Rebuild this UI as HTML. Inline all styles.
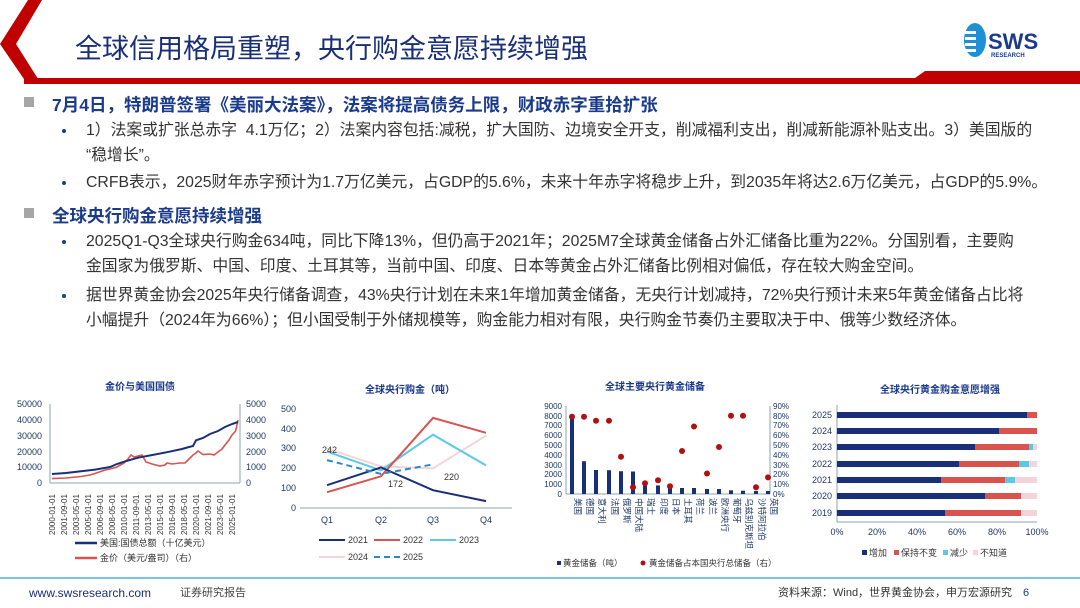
<!DOCTYPE html>
<html><head><meta charset="utf-8"><style>
body{margin:0;width:1080px;height:608px;background:#fff;position:relative;overflow:hidden;font-family:"Liberation Sans","Noto Sans CJK SC",sans-serif;}
.t{position:absolute;white-space:nowrap;}
.b{font-size:15.8px;color:#333;line-height:20px;}
.h{font-size:17.5px;font-weight:bold;color:#1a3a8c;}
.dot{position:absolute;width:4px;height:4px;border-radius:2px;background:#1a3a8c;}
.sq{position:absolute;width:10px;height:10px;background:#a6a6a6;}
svg text{font-family:"Liberation Sans","Noto Sans CJK SC",sans-serif;}
</style></head><body>
<svg width="1080" height="90" style="position:absolute;left:0;top:0">
<polygon points="28,0 42,0 16,44 40,82 26,82 0,44" fill="#c00000"/>
<polygon points="24,78 915,78 925,71 1080,71 1080,84 24,84" fill="#c00000"/>
<ellipse cx="975" cy="40" rx="11" ry="17" fill="#1e90d6"/>
<rect x="965" y="31" width="11" height="3" fill="#fff"/><rect x="965" y="37" width="11" height="3" fill="#fff"/><rect x="965" y="43" width="11" height="3" fill="#fff"/><rect x="965" y="49" width="11" height="3" fill="#fff"/>
<text x="988" y="49" font-size="22" font-weight="bold" fill="#1a3a8c">SWS</text>
<text x="991" y="57" font-size="6" font-weight="bold" fill="#1a3a8c">RESEARCH</text>
</svg>
<div class="t" style="left:75px;top:27px;font-size:27px;color:#1a2f7a;">全球信用格局重塑，央行购金意愿持续增强</div>

<div class="sq" style="left:24px;top:97px"></div>
<div class="t h" style="left:52px;top:92px">7月4日，特朗普签署《美丽大法案》，法案将提高债务上限，财政赤字重拾扩张</div>
<div class="dot" style="left:62px;top:129px"></div>
<div class="t b" style="left:86px;top:121px">1）法案或扩张总赤字&nbsp; 4.1万亿；2）法案内容包括:减税，扩大国防、边境安全开支，削减福利支出，削减新能源补贴支出。3）美国版的</div>
<div class="t b" style="left:86px;top:146px">“稳增长”。</div>
<div class="dot" style="left:62px;top:181px"></div>
<div class="t b" style="left:86px;top:173px">CRFB表示，2025财年赤字预计为1.7万亿美元，占GDP的5.6%，未来十年赤字将稳步上升，到2035年将达2.6万亿美元，占GDP的5.9%。</div>
<div class="sq" style="left:24px;top:208px"></div>
<div class="t h" style="left:52px;top:203px">全球央行购金意愿持续增强</div>
<div class="dot" style="left:62px;top:240px"></div>
<div class="t b" style="left:86px;top:232px">2025Q1-Q3全球央行购金634吨，同比下降13%，但仍高于2021年；2025M7全球黄金储备占外汇储备比重为22%。分国别看，主要购</div>
<div class="t b" style="left:86px;top:257px">金国家为俄罗斯、中国、印度、土耳其等，当前中国、印度、日本等黄金占外汇储备比例相对偏低，存在较大购金空间。</div>
<div class="dot" style="left:62px;top:294px"></div>
<div class="t b" style="left:86px;top:286px">据世界黄金协会2025年央行储备调查，43%央行计划在未来1年增加黄金储备，无央行计划减持，72%央行预计未来5年黄金储备占比将</div>
<div class="t b" style="left:86px;top:311px">小幅提升（2024年为66%）；但小国受制于外储规模等，购金能力相对有限，央行购金节奏仍主要取决于中、俄等少数经济体。</div>

<svg width="1080" height="608" style="position:absolute;left:0;top:0" font-size="9" fill="#1f3864">
<!-- chart1 -->
<text x="140" y="390" text-anchor="middle" font-size="10" font-weight="bold" fill="#1a3a8c">金价与美国国债</text>
<g fill="#1f3864" font-size="9" text-anchor="end">
<text x="42" y="407">50000</text><text x="42" y="423">40000</text><text x="42" y="439">30000</text><text x="42" y="455">20000</text><text x="42" y="470">10000</text><text x="42" y="486">0</text>
</g>
<g fill="#1f3864" font-size="9"><text x="246" y="407">5000</text><text x="246" y="423">4000</text><text x="246" y="439">3000</text><text x="246" y="455">2000</text><text x="246" y="470">1000</text><text x="246" y="486">0</text></g>
<line x1="50" y1="404" x2="50" y2="483" stroke="#8aa" stroke-width="1"/>
<line x1="240" y1="404" x2="240" y2="483" stroke="#8aa" stroke-width="1"/>
<line x1="50" y1="483" x2="240" y2="483" stroke="#8aa" stroke-width="1"/>
<polyline fill="none" stroke="#d9534f" stroke-width="1.6" points="52,478.6 66,478 81,476.5 90,475 95,473.5 105,470 110,469 117,467 124,463 128,459 131,455 134,457 138,456 142,455 146,462 152,464 160,466 165,465 167,463 172,464 180,463 185,463 189,459 193,455 196,453 198,451 203,454.6 210,454 214,455 218,452 222,449 225,445 229,440 232,435 235.6,431 237,425 238,420"/>
<polyline fill="none" stroke="#1a2f7a" stroke-width="2" points="52,474 66,473 81,471.3 95,469.6 110,467 117,464 124,461.7 138,457.7 153,454.9 167,452.2 182,449 189,447 193,446 196,440.3 203,438 210,434 218,431 225,427 232,424 238,422"/>
<g font-size="8" fill="#333">
<text transform="translate(55,535) rotate(-90)">2000-01-01</text><text transform="translate(67,535) rotate(-90)">2001-09-01</text><text transform="translate(79,535) rotate(-90)">2003-05-01</text><text transform="translate(91,535) rotate(-90)">2005-01-01</text><text transform="translate(103,535) rotate(-90)">2006-09-01</text><text transform="translate(115,535) rotate(-90)">2008-05-01</text><text transform="translate(127,535) rotate(-90)">2010-01-01</text><text transform="translate(139,535) rotate(-90)">2011-09-01</text><text transform="translate(151,535) rotate(-90)">2013-05-01</text><text transform="translate(163,535) rotate(-90)">2015-01-01</text><text transform="translate(175,535) rotate(-90)">2016-09-01</text><text transform="translate(187,535) rotate(-90)">2018-05-01</text><text transform="translate(199,535) rotate(-90)">2020-01-01</text><text transform="translate(211,535) rotate(-90)">2021-09-01</text><text transform="translate(223,535) rotate(-90)">2023-05-01</text><text transform="translate(235,535) rotate(-90)">2025-01-01</text>
</g>
<line x1="75" y1="543" x2="97" y2="543" stroke="#1a2f7a" stroke-width="2.5"/><text x="100" y="546" font-size="9" fill="#333">美国:国债总额（十亿美元）</text>
<line x1="75" y1="558" x2="97" y2="558" stroke="#d9534f" stroke-width="2.5"/><text x="100" y="561" font-size="9" fill="#333">金价（美元/盎司）（右）</text>

<!-- chart2 -->
<text x="410" y="393" text-anchor="middle" font-size="10" font-weight="bold" fill="#1a3a8c">全球央行购金（吨）</text>
<g text-anchor="end" font-size="9"><text x="296" y="412">500</text><text x="296" y="432">400</text><text x="296" y="451">300</text><text x="296" y="471">200</text><text x="296" y="491">100</text><text x="296" y="511">0</text></g>
<line x1="300" y1="508" x2="512" y2="508" stroke="#8aa"/>
<g font-size="9" text-anchor="middle"><text x="327" y="523">Q1</text><text x="381" y="523">Q2</text><text x="433" y="523">Q3</text><text x="486" y="523">Q4</text></g>
<polyline fill="none" stroke="#f4d4d8" stroke-width="2" points="327,448.6 381,466.4 433,468.4 486,435.7"/>
<polyline fill="none" stroke="#5bc8e8" stroke-width="2" points="327,451.6 381,470.4 433,434.7 486,465.4"/>
<polyline fill="none" stroke="#d9534f" stroke-width="2" points="327,492.2 381,476.3 433,417.9 486,432.8"/>
<polyline fill="none" stroke="#1a2f7a" stroke-width="2" points="327,485.2 381,467.4 433,490.2 486,501.1"/>
<polyline fill="none" stroke="#2a8ac8" stroke-width="2" stroke-dasharray="6,4" points="327,460.1 381,473.9 433,464.4"/>
<text x="322" y="453" font-size="9" fill="#333">242</text><text x="388" y="487" font-size="9" fill="#333">172</text><text x="444" y="480" font-size="9" fill="#333">220</text>
<line x1="319" y1="540" x2="345" y2="540" stroke="#1a2f7a" stroke-width="2"/><text x="348" y="543" font-size="9" fill="#333">2021</text>
<line x1="374" y1="540" x2="400" y2="540" stroke="#d9534f" stroke-width="2"/><text x="403" y="543" font-size="9" fill="#333">2022</text>
<line x1="430" y1="540" x2="456" y2="540" stroke="#5bc8e8" stroke-width="2"/><text x="459" y="543" font-size="9" fill="#333">2023</text>
<line x1="319" y1="557" x2="345" y2="557" stroke="#f4d4d8" stroke-width="2"/><text x="348" y="560" font-size="9" fill="#333">2024</text>
<line x1="374" y1="557" x2="400" y2="557" stroke="#2a8ac8" stroke-width="2" stroke-dasharray="6,4"/><text x="403" y="560" font-size="9" fill="#333">2025</text>

<!-- chart3 -->
<text x="655" y="390" text-anchor="middle" font-size="10" font-weight="bold" fill="#1a3a8c">全球主要央行黄金储备</text>
<g text-anchor="end" font-size="8"><text x="562" y="409">9000</text><text x="562" y="419">8000</text><text x="562" y="428">7000</text><text x="562" y="438">6000</text><text x="562" y="448">5000</text><text x="562" y="458">4000</text><text x="562" y="468">3000</text><text x="562" y="477">2000</text><text x="562" y="487">1000</text><text x="562" y="497">0</text></g>
<g font-size="8"><text x="773" y="409">90%</text><text x="773" y="419">80%</text><text x="773" y="428">70%</text><text x="773" y="438">60%</text><text x="773" y="448">50%</text><text x="773" y="458">40%</text><text x="773" y="468">30%</text><text x="773" y="477">20%</text><text x="773" y="487">10%</text><text x="773" y="497">0%</text></g>
<line x1="566" y1="406" x2="566" y2="494" stroke="#8aa"/><line x1="770" y1="406" x2="770" y2="494" stroke="#8aa"/><line x1="566" y1="494" x2="770" y2="494" stroke="#8aa"/>
<g fill="#1a2f7a">
<rect x="570" y="414.5" width="4" height="79.5"/><rect x="582" y="461.2" width="4" height="32.8"/><rect x="594" y="470" width="4" height="24"/><rect x="607" y="470.2" width="4" height="23.8"/><rect x="619" y="471.2" width="4" height="22.8"/><rect x="631" y="471.5" width="4" height="22.5"/><rect x="643" y="483.8" width="4" height="10.2"/><rect x="656" y="485.4" width="4" height="8.6"/><rect x="668" y="485.7" width="4" height="8.3"/><rect x="680" y="488" width="4" height="6"/><rect x="692" y="488" width="4" height="6"/><rect x="705" y="489" width="4" height="5"/><rect x="717" y="489" width="4" height="5"/><rect x="729" y="490.3" width="4" height="3.7"/><rect x="741" y="490.7" width="4" height="3.3"/><rect x="754" y="490.9" width="4" height="3.1"/><rect x="766" y="491" width="4" height="3"/>
</g>
<g fill="#b01010">
<circle cx="572" cy="416.8" r="3"/><circle cx="584" cy="416.8" r="3"/><circle cx="596" cy="420.7" r="3"/><circle cx="609" cy="420.7" r="3"/><circle cx="621" cy="456.8" r="3"/><circle cx="633" cy="487.2" r="3"/><circle cx="645" cy="483.2" r="3"/><circle cx="658" cy="480.3" r="3"/><circle cx="670" cy="486.2" r="3"/><circle cx="682" cy="451" r="3"/><circle cx="694" cy="426.5" r="3"/><circle cx="707" cy="473.5" r="3"/><circle cx="719" cy="447" r="3"/><circle cx="731" cy="415.8" r="3"/><circle cx="743" cy="415.8" r="3"/><circle cx="756" cy="487.2" r="3"/><circle cx="768" cy="477.4" r="3"/>
</g>
<g font-size="8.5" fill="#1f3864">
<text transform="translate(575,498) rotate(90)">美国</text><text transform="translate(587,498) rotate(90)">德国</text><text transform="translate(599,498) rotate(90)">意大利</text><text transform="translate(612,498) rotate(90)">法国</text><text transform="translate(624,498) rotate(90)">俄罗斯</text><text transform="translate(636,498) rotate(90)">中国大陆</text><text transform="translate(648,498) rotate(90)">瑞士</text><text transform="translate(661,498) rotate(90)">印度</text><text transform="translate(673,498) rotate(90)">日本</text><text transform="translate(685,498) rotate(90)">土耳其</text><text transform="translate(697,498) rotate(90)">荷兰</text><text transform="translate(710,498) rotate(90)">波兰</text><text transform="translate(722,498) rotate(90)">欧洲央行</text><text transform="translate(734,498) rotate(90)">葡萄牙</text><text transform="translate(746,498) rotate(90)">乌兹别克斯坦</text><text transform="translate(759,498) rotate(90)">沙特阿拉伯</text><text transform="translate(771,498) rotate(90)">英国</text>
</g>
<rect x="557" y="561" width="4" height="4" fill="#1a2f7a"/><text x="563" y="566" font-size="8.5" fill="#333">黄金储备（吨）</text>
<circle cx="643" cy="563" r="2.5" fill="#b01010"/><text x="649" y="566" font-size="8.5" fill="#333">黄金储备占本国央行总储备（右）</text>

<!-- chart4 -->
<text x="940" y="393" text-anchor="middle" font-size="10" font-weight="bold" fill="#1a3a8c">全球央行黄金购金意愿增强</text>
<line x1="837" y1="405" x2="837" y2="522" stroke="#8aa"/><line x1="837" y1="522" x2="1037" y2="522" stroke="#8aa"/>
<g text-anchor="end" font-size="9"><text x="832" y="418">2025</text><text x="832" y="434">2024</text><text x="832" y="450">2023</text><text x="832" y="467">2022</text><text x="832" y="483">2021</text><text x="832" y="499">2020</text><text x="832" y="516">2019</text></g>
<g font-size="9" text-anchor="middle"><text x="837" y="535">0%</text><text x="877" y="535">20%</text><text x="917" y="535">40%</text><text x="957" y="535">60%</text><text x="997" y="535">80%</text><text x="1037" y="535">100%</text></g>
<g>
<rect x="837" y="412" width="190" height="6" fill="#1a2f7a"/><rect x="1027" y="412" width="10" height="6" fill="#d9534f"/>
<rect x="837" y="428" width="162" height="6" fill="#1a2f7a"/><rect x="999" y="428" width="38" height="6" fill="#d9534f"/>
<rect x="837" y="444" width="138" height="6" fill="#1a2f7a"/><rect x="975" y="444" width="54" height="6" fill="#d9534f"/><rect x="1029" y="444" width="4" height="6" fill="#5bc8e8"/><rect x="1033" y="444" width="4" height="6" fill="#f4d4d8"/>
<rect x="837" y="461" width="122" height="6" fill="#1a2f7a"/><rect x="959" y="461" width="60" height="6" fill="#d9534f"/><rect x="1019" y="461" width="10" height="6" fill="#5bc8e8"/><rect x="1029" y="461" width="8" height="6" fill="#f4d4d8"/>
<rect x="837" y="477" width="104" height="6" fill="#1a2f7a"/><rect x="941" y="477" width="64" height="6" fill="#d9534f"/><rect x="1005" y="477" width="10" height="6" fill="#5bc8e8"/><rect x="1015" y="477" width="22" height="6" fill="#f4d4d8"/>
<rect x="837" y="493" width="148" height="6" fill="#1a2f7a"/><rect x="985" y="493" width="36" height="6" fill="#d9534f"/><rect x="1021" y="493" width="16" height="6" fill="#f4d4d8"/>
<rect x="837" y="510" width="108" height="6" fill="#1a2f7a"/><rect x="945" y="510" width="76" height="6" fill="#d9534f"/><rect x="1021" y="510" width="16" height="6" fill="#f4d4d8"/>
</g>
<rect x="862" y="550" width="5" height="5" fill="#1a2f7a"/><text x="869" y="556" font-size="9" fill="#333">增加</text>
<rect x="894" y="550" width="5" height="5" fill="#d9534f"/><text x="901" y="556" font-size="9" fill="#333">保持不变</text>
<rect x="943" y="550" width="5" height="5" fill="#5bc8e8"/><text x="950" y="556" font-size="9" fill="#333">减少</text>
<rect x="973" y="550" width="5" height="5" fill="#f4d4d8"/><text x="980" y="556" font-size="9" fill="#333">不知道</text>

<!-- footer -->
<line x1="0" y1="578" x2="1080" y2="578" stroke="#4ab0e0" stroke-width="1.5"/>
<text x="29" y="597" font-size="12" fill="#1a2f7a">www.swsresearch.com</text>
<text x="180" y="596" font-size="11" fill="#444">证券研究报告</text>
<text x="778" y="596" font-size="11" fill="#333">资料来源：Wind，世界黄金协会，申万宏源研究</text>
<text x="1023" y="596" font-size="11" fill="#1a3a8c">6</text>
</svg>
</body></html>
